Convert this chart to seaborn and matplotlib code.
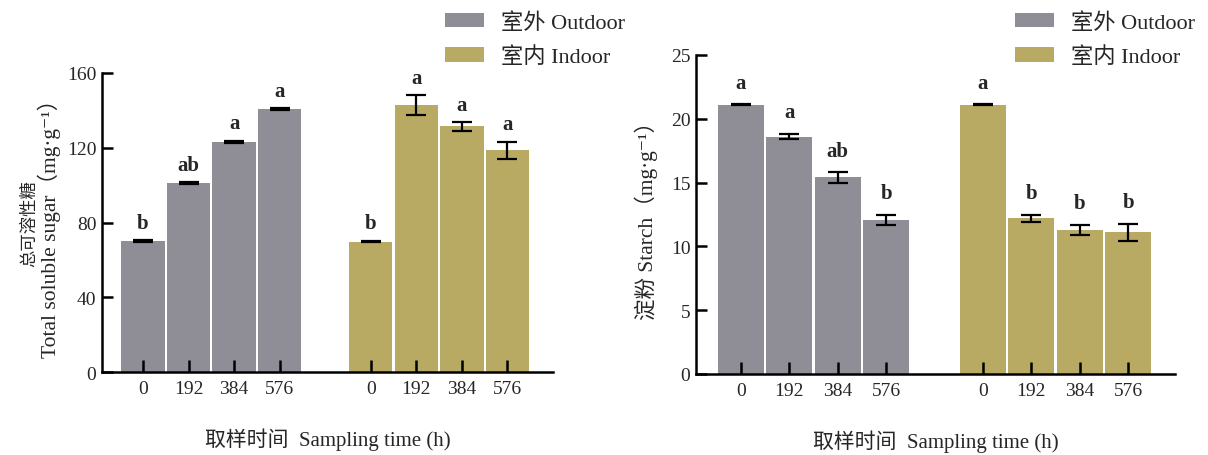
#!/usr/bin/env python3
"""Total soluble sugar and starch, outdoor vs indoor, over sampling time."""

import matplotlib

matplotlib.use("Agg")

import matplotlib.pyplot as plt
import pandas as pd
import seaborn as sns


TIMES = ["0", "192", "384", "576"]
GROUPS = ["室外 Outdoor", "室内 Indoor"]
COLORS = ["#8f8e96", "#b9aa63"]

SUGAR_OUT = [70.0, 101.0, 123.2, 140.6]
SUGAR_OUT_ERR = [0.5, 0.5, 0.5, 0.5]
SUGAR_IN = [69.8, 142.8, 131.4, 118.7]
SUGAR_IN_ERR = [0.5, 5.2, 2.3, 4.5]
SUGAR_OUT_LETTERS = ["b", "ab", "a", "a"]
SUGAR_IN_LETTERS = ["b", "a", "a", "a"]

STARCH_OUT = [21.1, 18.6, 15.4, 12.1]
STARCH_OUT_ERR = [0.04, 0.2, 0.4, 0.4]
STARCH_IN = [21.1, 12.2, 11.3, 11.1]
STARCH_IN_ERR = [0.04, 0.25, 0.4, 0.65]
STARCH_OUT_LETTERS = ["a", "a", "ab", "b"]
STARCH_IN_LETTERS = ["a", "b", "b", "b"]

XLABEL = "取样时间  Sampling time (h)"
SUGAR_YLABEL_CN = "总可溶性糖"
SUGAR_YLABEL = "Total soluble sugar（mg·g⁻¹）"
STARCH_YLABEL = "淀粉 Starch（mg·g⁻¹）"

W, H = 1208, 456


def build_frame(out_vals, out_err, out_let, in_vals, in_err, in_let):
    rows = []
    groups = [(out_vals, out_err, out_let), (in_vals, in_err, in_let)]
    for g, (vals, errs, lets) in enumerate(groups):
        for i, t in enumerate(TIMES):
            rows.append({
                "pos": g * (len(TIMES) + 1) + i,
                "time": t,
                "group": GROUPS[g],
                "value": vals[i],
                "err": errs[i],
                "letter": lets[i],
            })
    return pd.DataFrame(rows)


def draw_panel(fig, ax, df, ymax, ystep, xlim, ylabel, ylabelpad, legend_x, letter_gap):
    sns.barplot(
        data=df, x="pos", y="value", hue="group", hue_order=GROUPS,
        palette=COLORS, native_scale=True, dodge=False, width=0.95,
        errorbar=None, saturation=1, linewidth=0, ax=ax,
    )
    ax.errorbar(
        df["pos"], df["value"], yerr=df["err"], fmt="none", ecolor="black",
        elinewidth=1.6, capsize=7.5, capthick=1.6, zorder=3,
    )
    for _, r in df.iterrows():
        ax.annotate(
            r["letter"], (r["pos"], r["value"] + r["err"]), xytext=(0, letter_gap),
            textcoords="offset points", ha="center", va="baseline",
            fontsize=15, fontweight="bold",
        )

    ax.set_axisbelow(False)  # tick marks sit on top of the bars
    ax.set_xlim(*xlim)
    ax.set_ylim(0, ymax)
    ax.set_xticks(df["pos"], df["time"])
    ax.set_yticks(range(0, ymax + 1, ystep))
    ax.tick_params(axis="x", direction="in", length=8.5, width=1.8,
                   labelsize=14, pad=6, color="black")
    ax.tick_params(axis="y", direction="in", length=8, width=1.8,
                   labelsize=14, pad=4, color="black")
    sns.despine(ax=ax)
    for side in ["left", "bottom"]:
        ax.spines[side].set_linewidth(1.8)
        ax.spines[side].set_color("black")

    ax.set_xlabel(XLABEL, fontsize=15, labelpad=22)
    ax.set_ylabel(ylabel, fontsize=15.5, labelpad=ylabelpad)

    handles, labels = ax.get_legend_handles_labels()
    if ax.get_legend() is not None:
        ax.get_legend().remove()
    fig.legend(
        handles, labels, loc="upper left",
        bbox_to_anchor=(legend_x / W, 1 - 13 / H), frameon=False, fontsize=16,
        handlelength=1.75, handleheight=0.6, handletextpad=0.75,
        labelspacing=0.62, borderpad=0, borderaxespad=0,
    )


def main():
    sns.set_style("ticks")
    plt.rcParams["font.family"] = ["Liberation Serif", "Noto Sans CJK SC", "DejaVu Sans"]

    fig = plt.figure(figsize=(W / 100, H / 100), dpi=100)
    ax1 = fig.add_axes([102 / W, 1 - 373 / H, (553 - 102) / W, (373 - 74) / H])
    ax2 = fig.add_axes([696 / W, 1 - 375 / H, (1175 - 696) / W, (375 - 56) / H])

    sugar = build_frame(SUGAR_OUT, SUGAR_OUT_ERR, SUGAR_OUT_LETTERS,
                        SUGAR_IN, SUGAR_IN_ERR, SUGAR_IN_LETTERS)
    starch = build_frame(STARCH_OUT, STARCH_OUT_ERR, STARCH_OUT_LETTERS,
                         STARCH_IN, STARCH_IN_ERR, STARCH_IN_LETTERS)

    draw_panel(fig, ax1, sugar, 160, 40, (-0.9, 9.0), SUGAR_YLABEL, 4, 445, 9)
    draw_panel(fig, ax2, starch, 25, 5, (-0.93, 8.97), STARCH_YLABEL, 9, 1015, 12)

    # Chinese line of the left y label, set a little smaller than the English one
    ax1.text((30 - 102) / (553 - 102), 0.5, SUGAR_YLABEL_CN, transform=ax1.transAxes,
             rotation=90, ha="center", va="center", fontsize=12.5)

    fig.savefig("out.png", dpi=100)
    plt.close(fig)


if __name__ == "__main__":
    main()
